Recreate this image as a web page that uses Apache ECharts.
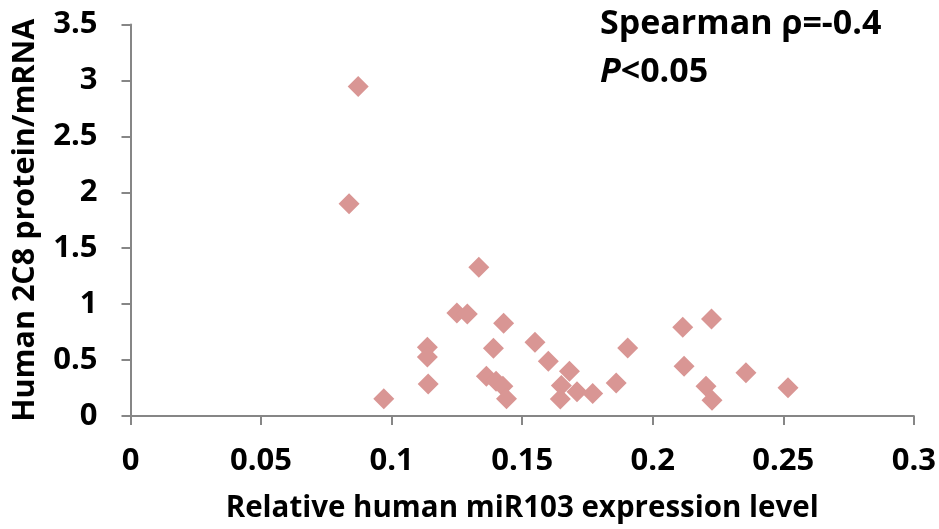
<!DOCTYPE html>
<html>
<head>
<meta charset="utf-8">
<script src="https://cdn.jsdelivr.net/npm/echarts@6/dist/echarts.min.js"></script>
<style>
html,body{margin:0;padding:0;background:#fff;}
#chart{width:939px;height:529px;}
</style>
</head>
<body>
<div id="chart"></div>
<script>
// Data
var mir103 = [0.0872, 0.0837, 0.097, 0.1137, 0.1137, 0.114, 0.125, 0.129, 0.1334, 0.1363, 0.140, 0.1426, 0.144, 0.139, 0.1429, 0.1549, 0.160, 0.1681, 0.165, 0.1646, 0.171, 0.177, 0.186, 0.1904, 0.2115, 0.2225, 0.212, 0.2204, 0.2227, 0.2357, 0.2518];
var proteinRatio = [2.945, 1.897, 0.154, 0.614, 0.528, 0.287, 0.921, 0.912, 1.329, 0.355, 0.311, 0.266, 0.154, 0.605, 0.829, 0.659, 0.489, 0.40, 0.272, 0.153, 0.216, 0.201, 0.296, 0.609, 0.793, 0.868, 0.445, 0.266, 0.141, 0.386, 0.252];
var xTickLabels = ['0', '0.05', '0.1', '0.15', '0.2', '0.25', '0.3'];
var yTickLabels = ['0', '0.5', '1', '1.5', '2', '2.5', '3', '3.5'];
var xTitle = 'Relative human miR103 expression level';
var yTitle = 'Human 2C8 protein/mRNA';
var annot1 = 'Spearman \u03c1=-0.4';
var annot2 = '<0.05';

var points = mir103.map(function (x, i) { return [x, proteinRatio[i]]; });
var font = '"Open Sans", "Noto Sans", sans-serif';
var axisGray = '#868686';

var chart = echarts.init(document.getElementById('chart'));
chart.setOption({
  animation: false,
  backgroundColor: '#ffffff',
  grid: { left: 130.5, right: 24, top: 24.5, bottom: 112.5 },
  xAxis: {
    type: 'value', min: 0, max: 0.3, interval: 0.05,
    name: xTitle, nameLocation: 'middle', nameGap: 78,
    nameTextStyle: { fontFamily: font, fontWeight: 'bold', fontSize: 29.5, color: '#000' },
    axisLine: { show: true, lineStyle: { color: axisGray, width: 2 } },
    axisTick: { show: true, inside: false, length: 9, lineStyle: { color: axisGray, width: 2 } },
    axisLabel: { margin: 30, fontFamily: font, fontWeight: 'bold', fontSize: 31, color: '#000',
      formatter: function (v, i) { return xTickLabels[i]; } },
    splitLine: { show: false }
  },
  yAxis: {
    type: 'value', min: 0, max: 3.5, interval: 0.5,
    name: yTitle, nameLocation: 'middle', nameGap: 90,
    nameTextStyle: { fontFamily: font, fontWeight: 'bold', fontSize: 30.5, color: '#000' },
    axisLine: { show: true, lineStyle: { color: axisGray, width: 2 } },
    axisTick: { show: true, inside: false, length: 9, lineStyle: { color: axisGray, width: 2 } },
    axisLabel: { margin: 33, fontFamily: font, fontWeight: 'bold', fontSize: 31, color: '#000',
      formatter: function (v, i) { return yTickLabels[i]; } },
    splitLine: { show: false }
  },
  graphic: [
    { type: 'text', left: 600, top: 7,
      style: { text: annot1, font: 'bold 34px ' + font, fill: '#000' } },
    { type: 'text', left: 600, top: 55,
      style: { text: '{i|P}' + annot2, font: 'bold 34px ' + font, fill: '#000',
        rich: { i: { fontStyle: 'italic', fontWeight: 'bold', fontSize: 34, fontFamily: font, fill: '#000' } } } }
  ],
  series: [{
    type: 'scatter',
    symbol: 'diamond',
    symbolSize: 21,
    itemStyle: { color: '#D99694', opacity: 1 },
    data: points
  }]
});
</script>
</body>
</html>
